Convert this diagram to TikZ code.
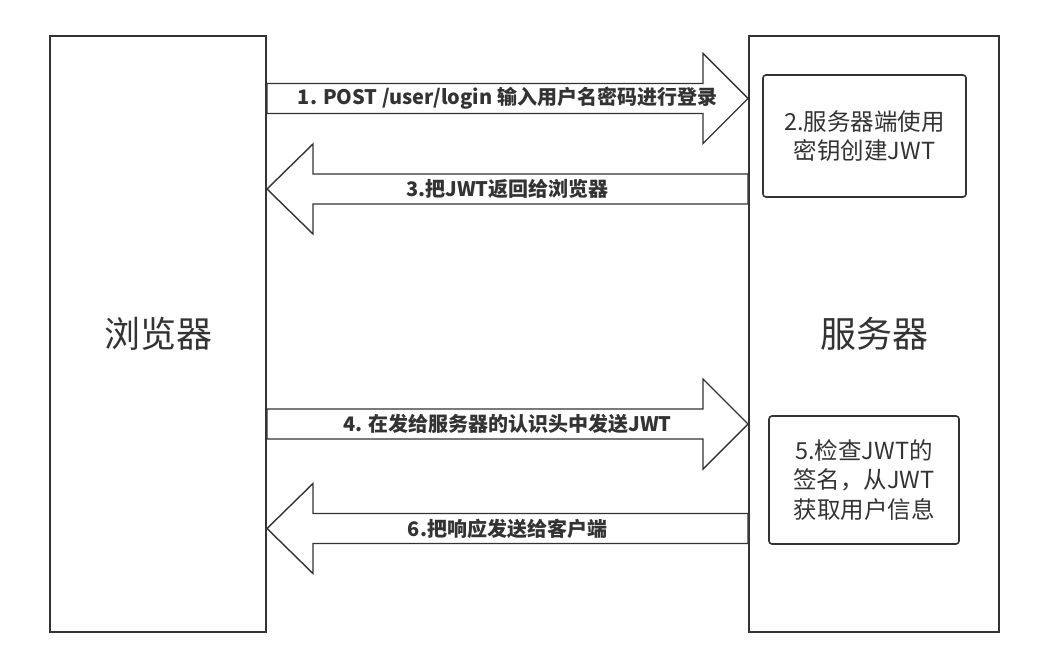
\documentclass[tikz,border=0pt]{standalone}
\usepackage{fontspec}
\setmainfont{Noto Sans CJK SC}
\usetikzlibrary{calc}
\definecolor{linegray}{HTML}{333333}
\tikzset{
  lane/.style={draw=linegray,line width=2pt,minimum width=#1,minimum height=596pt,
    text=linegray,font=\fontsize{36}{40}\selectfont},
  stepbox/.style={draw=linegray,line width=1.6pt,rounded corners=3pt,text=linegray,
    align=center,font=\fontsize{23.5}{29.5}\selectfont},
  fatarrow/.style={draw=linegray,line width=1.4pt,fill=white,line join=miter},
  arrowlabel/.style={text=linegray,font=\bfseries\fontsize{20}{22}\selectfont,inner sep=0pt}
}
% #1 start, #2 tip, #3 label name, #4 text
\newcommand{\fatright}[4]{%
  \draw[fatarrow] ($(#1)+(0,-15)$) -- ($(#2)+(-45,-15)$) -- ($(#2)+(-45,-45)$) -- (#2)
    -- ($(#2)+(-45,45)$) -- ($(#2)+(-45,15)$) -- ($(#1)+(0,15)$) -- cycle;
  \node[arrowlabel] (#3) at ($(#1)!0.5!(#2)$) {#4};}
\newcommand{\fatleft}[4]{%
  \draw[fatarrow] ($(#1)+(0,-15)$) -- ($(#2)+(46,-15)$) -- ($(#2)+(46,-45)$) -- (#2)
    -- ($(#2)+(46,45)$) -- ($(#2)+(46,15)$) -- ($(#1)+(0,15)$) -- cycle;
  \node[arrowlabel] (#3) at ($(#1)!0.5!(#2)$) {#4};}
\begin{document}
\begin{tikzpicture}[x=1pt,y=-1pt]
  \useasboundingbox[fill=white] (0,0) rectangle (1043,660);

  % the two sides
  \node[lane=216pt] (browser) at (158,334) {浏览器};
  \node[lane=250pt] (server) at (874,334) {服务器};

  % steps on the server
  \node[stepbox,minimum width=203pt,minimum height=122pt] (create) at (864.5,136)
    {2.服务器端使用\\密钥创建JWT};
  \node[stepbox,minimum width=190pt,minimum height=128pt] (check) at (864,480)
    {5.检查JWT的\\签名，从JWT\\获取用户信息};

  % ends of the fat arrows
  \coordinate (login-s) at (browser.east |- 0,98.5);
  \coordinate (login-e) at (server.west |- 0,98.5);
  \coordinate (token-s) at (server.west |- 0,189);
  \coordinate (token-e) at (browser.east |- 0,189);
  \coordinate (send-s) at (browser.east |- 0,424);
  \coordinate (send-e) at (server.west |- 0,424);
  \coordinate (reply-s) at (server.west |- 0,528.5);
  \coordinate (reply-e) at (browser.east |- 0,528.5);

  \fatright{login-s}{login-e}{login}{1. POST /user/login 输入用户名密码进行登录}
  \fatleft{token-s}{token-e}{token}{3.把JWT返回给浏览器}
  \fatright{send-s}{send-e}{send}{4. 在发给服务器的认识头中发送JWT}
  \fatleft{reply-s}{reply-e}{reply}{6.把响应发送给客户端}
\end{tikzpicture}
\end{document}
